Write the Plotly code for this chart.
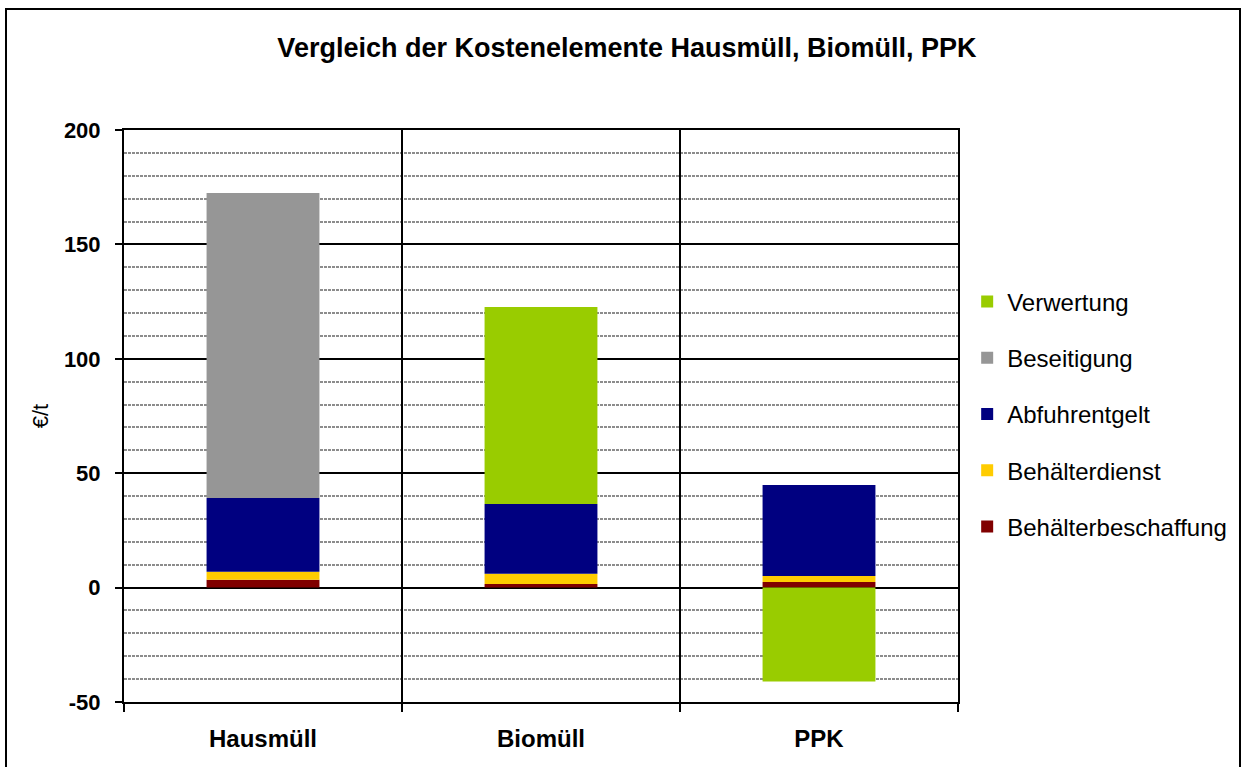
import plotly.graph_objects as go

# categories and cost elements (EUR per tonne)
categories = ["Hausmüll", "Biomüll", "PPK"]
behaelterbeschaffung = [3.4, 1.6, 2.5]
behaelterdienst = [3.5, 4.4, 2.6]
abfuhrentgelt = [32.3, 30.5, 39.7]
beseitigung = [133.3, 0, 0]
verwertung = [0, 86.1, -41.0]

# y axis ticks (plain hyphen for the minus sign, as in the original)
y_ticks = [-50, 0, 50, 100, 150, 200]
y_tick_labels = ["-50", "0", "50", "100", "150", "200"]

# (name, values, colour, position in legend from the top)
series = [
    ("Behälterbeschaffung", behaelterbeschaffung, "#800000", 5),
    ("Behälterdienst", behaelterdienst, "#FFCC00", 4),
    ("Abfuhrentgelt", abfuhrentgelt, "#000080", 3),
    ("Beseitigung", beseitigung, "#969696", 2),
    ("Verwertung", verwertung, "#99CC00", 1),
]

FONT = "Arial, Liberation Sans, sans-serif"

fig = go.Figure()
for name, values, color, rank in series:
    fig.add_trace(
        go.Bar(
            x=categories,
            y=values,
            name=name,
            legendgroup=name,
            legendrank=rank,
            marker=dict(color=color, line=dict(width=0)),
        )
    )

fig.update_layout(
    width=1244,
    height=767,
    barmode="relative",
    bargap=0.594,
    plot_bgcolor="white",
    paper_bgcolor="white",
    margin=dict(l=124, r=286, t=130, b=65, pad=0),
    font=dict(family=FONT, color="#000000"),
    title=dict(
        text="<b>Vergleich der Kostenelemente Hausmüll, Biomüll, PPK</b>",
        font=dict(size=27, family=FONT, color="#000000"),
        x=0.504,
        xanchor="center",
        y=1 - 48 / 767,
        yanchor="middle",
    ),
    legend=dict(
        traceorder="grouped",
        tracegroupgap=22,
        font=dict(size=24, family=FONT),
        x=1.011,
        xanchor="left",
        y=0.5035,
        yanchor="middle",
        bgcolor="rgba(0,0,0,0)",
    ),
    xaxis=dict(
        showline=True,
        linecolor="#000000",
        linewidth=2,
        mirror=True,
        tickson="boundaries",
        ticks="outside",
        ticklen=8,
        tickwidth=2,
        tickcolor="#000000",
        showgrid=True,
        gridcolor="#000000",
        gridwidth=2,
        tickfont=dict(size=24, family=FONT, weight="bold"),
        ticklabelstandoff=14,
    ),
    yaxis=dict(
        range=[-50, 200],
        tickmode="array",
        tickvals=y_ticks,
        ticktext=y_tick_labels,
        showline=True,
        linecolor="#000000",
        linewidth=2,
        mirror=True,
        ticks="outside",
        ticklen=7,
        tickwidth=2,
        tickcolor="#000000",
        showgrid=True,
        gridcolor="#000000",
        gridwidth=1.5,
        zeroline=True,
        zerolinecolor="#000000",
        zerolinewidth=2,
        tickfont=dict(size=22, family=FONT, weight="bold"),
        ticklabelstandoff=10,
        minor=dict(
            tickmode="linear",
            tick0=0,
            dtick=10,
            showgrid=True,
            gridcolor="#8c8c8c",
            griddash="3px,1px",
            gridwidth=1.5,
        ),
        title=dict(text="€/t", font=dict(size=22, family=FONT), standoff=9),
    ),
)

# outer chart frame
fig.add_shape(
    type="rect",
    xref="paper",
    yref="paper",
    x0=(6 - 124) / 834,
    x1=(1240 - 124) / 834,
    y0=(702 - 775) / 572,
    y1=(702 - 9) / 572,
    line=dict(color="#000000", width=2),
    fillcolor="rgba(0,0,0,0)",
    layer="below",
)

# drop the default page margin so the figure sits at the window corner
fig.write_html(
    "out.html",
    config={"displayModeBar": False},
    post_script="document.body.style.margin = '0';",
)
